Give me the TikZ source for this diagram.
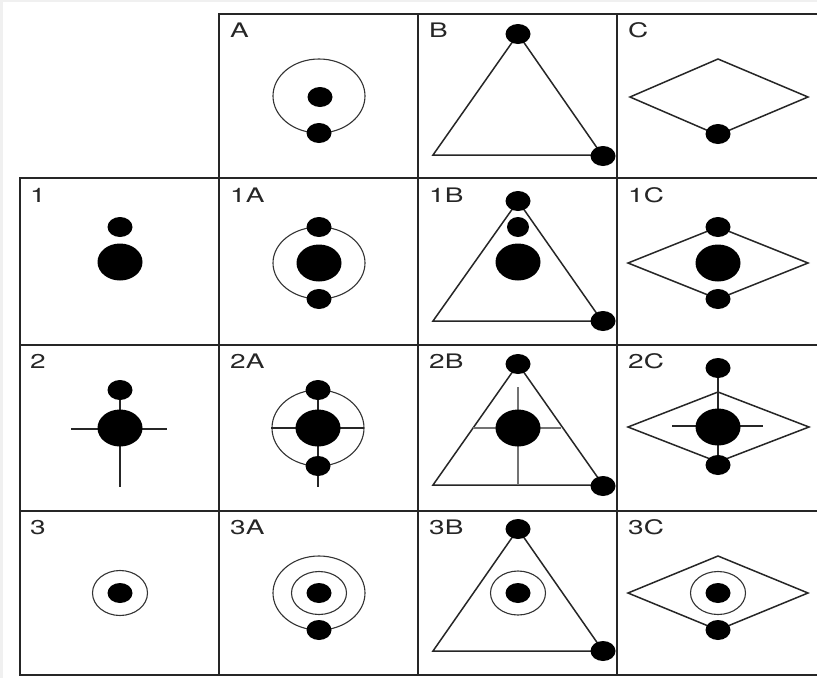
\documentclass[tikz,border=0pt]{standalone}
\usepackage{fontspec}
\setmainfont{TeX Gyre Heros}
\begin{document}
\begin{tikzpicture}[x=1pt,y=-1pt,
  gridline/.style={line width=2.2pt,black!85},
  shp/.style={line width=1.5pt,black!85,line join=miter},
  orb/.style={line width=1.1pt,black!80},
  greyline/.style={line width=1.8pt,black!55},
  lbl/.style={anchor=base west,inner sep=0pt,text=black!85,font=\fontsize{20}{22}\selectfont}]
\useasboundingbox (0,0) rectangle (817,678);
\fill[white] (0,0) rectangle (817,678);
\fill[black!6] (0,0) rectangle (817,2);
\fill[black!6] (0,0) rectangle (3,678);
\newcommand{\sdot}[1]{\fill[black] #1 ellipse [x radius=12.5pt, y radius=10pt];}
\newcommand{\bdot}[1]{\fill[black] #1 ellipse [x radius=22.5pt, y radius=18.5pt];}
% grid
\draw[gridline] (219,14) -- (818,14);
\draw[gridline] (19,178) -- (818,178);
\draw[gridline] (19,345) -- (818,345);
\draw[gridline] (19,511) -- (818,511);
\draw[gridline] (19,675) -- (818,675);
\draw[gridline] (20,178) -- (20,676);
\draw[gridline] (219,13) -- (219,676);
\draw[gridline] (418,13) -- (418,676);
\draw[gridline] (617,13) -- (617,676);
% labels
\node[lbl] (lA) at (230,37) {\scalebox{1.4}[1]{A}};
\node[lbl] (lB) at (429,37) {\scalebox{1.4}[1]{B}};
\node[lbl] (lC) at (628,37) {\scalebox{1.4}[1]{C}};
\node[lbl] (l1) at (30,202) {\scalebox{1.4}[1]{1}};
\node[lbl] (l1A) at (230,202) {\scalebox{1.4}[1]{1A}};
\node[lbl] (l1B) at (429,202) {\scalebox{1.4}[1]{1B}};
\node[lbl] (l1C) at (628,202) {\scalebox{1.4}[1]{1C}};
\node[lbl] (l2) at (30,368) {\scalebox{1.4}[1]{2}};
\node[lbl] (l2A) at (230,368) {\scalebox{1.4}[1]{2A}};
\node[lbl] (l2B) at (429,368) {\scalebox{1.4}[1]{2B}};
\node[lbl] (l2C) at (628,368) {\scalebox{1.4}[1]{2C}};
\node[lbl] (l3) at (30,534) {\scalebox{1.4}[1]{3}};
\node[lbl] (l3A) at (230,534) {\scalebox{1.4}[1]{3A}};
\node[lbl] (l3B) at (429,534) {\scalebox{1.4}[1]{3B}};
\node[lbl] (l3C) at (628,534) {\scalebox{1.4}[1]{3C}};
% A
\draw[orb] (319,96) ellipse [x radius=46pt, y radius=37pt];
\sdot{(320,97)} \sdot{(319,133)}
% B
\draw[shp] (518,34) -- (433,155) -- (602,155) -- cycle;
\sdot{(518,34)} \sdot{(603,156)}
% C
\draw[shp] (630,97) -- (718,59) -- (808,97) -- (718,135) -- cycle;
\sdot{(718,134)}
% 1
\sdot{(120,227)} \bdot{(120,262)}
% 1A
\draw[orb] (319,263) ellipse [x radius=46pt, y radius=36pt];
\sdot{(319,227)} \sdot{(319,299)} \bdot{(319,263)}
% 1B
\draw[shp] (518,201) -- (433,321) -- (602,321) -- cycle;
\sdot{(518,201)} \sdot{(603,321)}
\fill[black] (518,227) ellipse [x radius=11pt, y radius=10pt];
\bdot{(518,262)}
% 1C
\draw[shp] (628,263) -- (718,227) -- (808,263) -- (718,299) -- cycle;
\sdot{(718,227)} \sdot{(718,299)} \bdot{(718,263)}
% 2
\draw[shp] (120,390) -- (120,487);
\draw[shp] (71,429) -- (167,429);
\sdot{(120,390)} \bdot{(120,428)}
% 2A
\draw[orb] (318,428) ellipse [x radius=46pt, y radius=38pt];
\draw[shp] (271,428) -- (364,428);
\draw[shp] (318,390) -- (318,487);
\sdot{(318,390)} \sdot{(318,466)} \bdot{(318,428)}
% 2B
\draw[shp] (518,364) -- (433,485) -- (603,485) -- cycle;
\draw[greyline] (473,428) -- (561,428);
\draw[greyline] (518,387) -- (518,485);
\sdot{(518,364)} \sdot{(603,486)} \bdot{(518,428)}
% 2C
\draw[shp] (628,427) -- (718,392) -- (809,427) -- (718,462) -- cycle;
\draw[shp] (718,368) -- (718,465);
\draw[shp] (672,426) -- (763,426);
\sdot{(718,368)} \sdot{(718,465)} \bdot{(718,427)}
% 3
\draw[orb] (120,593) ellipse [x radius=27.5pt, y radius=22.5pt];
\sdot{(120,593)}
% 3A
\draw[orb] (319,593) ellipse [x radius=46pt, y radius=37pt];
\draw[orb] (319,593) ellipse [x radius=27.5pt, y radius=21.5pt];
\sdot{(319,593)} \sdot{(319,630)}
% 3B
\draw[shp] (518,529) -- (433,651) -- (603,651) -- cycle;
\draw[orb] (518,593) ellipse [x radius=27.5pt, y radius=22pt];
\sdot{(518,529)} \sdot{(603,651)} \sdot{(518,593)}
% 3C
\draw[shp] (628,593) -- (718,556) -- (808,593) -- (718,630) -- cycle;
\draw[orb] (718,593) ellipse [x radius=27.5pt, y radius=21.5pt];
\sdot{(718,593)} \sdot{(718,630)}
\end{tikzpicture}
\end{document}
